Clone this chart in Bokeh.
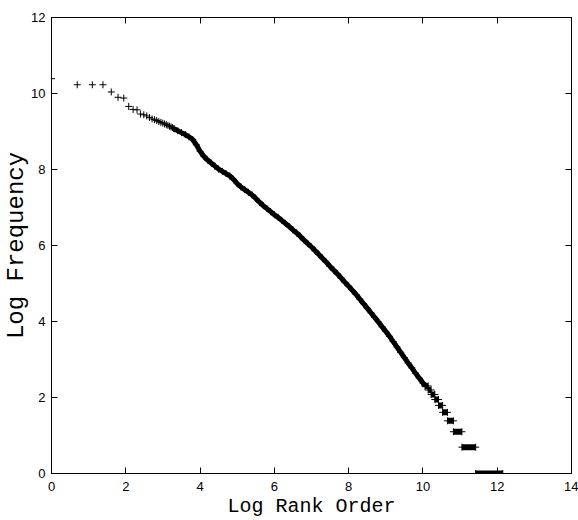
from bokeh.plotting import figure
from bokeh.models import LinearAxis, Range1d, FixedTicker, CustomJSTickFormatter
from bokeh.embed import file_html
from bokeh.resources import INLINE

# ---- data (natural log of rank, natural log of frequency) ----
# top-ranked words, drawn as individual points
x_top = [0.0, 0.693, 1.099, 1.386, 1.609, 1.792, 1.946, 2.079, 2.197, 2.303, 2.398,
         2.485, 2.565, 2.639, 2.708, 2.773, 2.833, 2.890, 2.944, 2.996, 3.045, 3.091,
         3.135, 3.178, 3.219, 3.258, 3.296]
y_top = [10.39, 10.23, 10.23, 10.23, 10.04, 9.90, 9.88, 9.66, 9.58, 9.57, 9.46,
         9.44, 9.41, 9.37, 9.33, 9.31, 9.29, 9.26, 9.24, 9.22, 9.20, 9.18,
         9.16, 9.14, 9.12, 9.10, 9.08]

# dense middle part of the curve
x_band = [3.30, 3.40, 3.50, 3.60, 3.70, 3.80, 3.90, 4.00, 4.10, 4.20, 4.30, 4.40,
          4.50, 4.60, 4.70, 4.80, 4.90, 5.00, 5.10, 5.20, 5.30, 5.40, 5.50, 5.60,
          5.70, 5.80, 5.90, 6.00, 6.10, 6.20, 6.30, 6.40, 6.50, 6.60, 6.70, 6.80,
          6.90, 7.00, 7.10, 7.20, 7.30, 7.40, 7.50, 7.60, 7.70, 7.80, 7.90, 8.00,
          8.10, 8.20, 8.30, 8.40, 8.50, 8.60, 8.70, 8.80, 8.90, 9.00, 9.10, 9.20,
          9.30, 9.40, 9.50, 9.60, 9.70, 9.80, 9.90, 10.00, 10.06]
y_band = [9.07, 9.02, 8.97, 8.92, 8.86, 8.79, 8.65, 8.48, 8.35, 8.25, 8.17, 8.09,
          8.01, 7.95, 7.89, 7.83, 7.74, 7.63, 7.54, 7.47, 7.40, 7.33, 7.24, 7.14,
          7.05, 6.97, 6.89, 6.81, 6.74, 6.66, 6.58, 6.50, 6.41, 6.33, 6.24, 6.14,
          6.05, 5.96, 5.86, 5.76, 5.66, 5.56, 5.45, 5.35, 5.25, 5.14, 5.03, 4.93,
          4.82, 4.71, 4.59, 4.47, 4.35, 4.23, 4.11, 3.99, 3.86, 3.74, 3.61, 3.47,
          3.33, 3.19, 3.05, 2.91, 2.78, 2.64, 2.51, 2.38, 2.30]

# low-frequency tail: runs of ranks sharing the same frequency (f = 10 .. 1)
step_y = [2.303, 2.197, 2.079, 1.946, 1.792, 1.609, 1.386, 1.099, 0.693, 0.0]
step_x0 = [10.06, 10.14, 10.22, 10.32, 10.42, 10.53, 10.66, 10.82, 11.05, 11.42]
step_x1 = [10.14, 10.22, 10.32, 10.42, 10.53, 10.66, 10.82, 11.05, 11.42, 12.15]

x_ticks = [0, 2, 4, 6, 8, 10, 12, 14]
y_ticks = [0, 2, 4, 6, 8, 10, 12]

p = figure(width=578, height=520, output_backend="svg", toolbar_location=None,
           x_range=Range1d(0, 14), y_range=Range1d(0, 12),
           min_border_left=49, min_border_right=7, min_border_top=17, min_border_bottom=47)
p.xgrid.visible = False
p.ygrid.visible = False
p.outline_line_color = "black"
p.background_fill_color = "white"
p.border_fill_color = "white"

def style_axis(ax, ticks, show_labels):
    ax.ticker = FixedTicker(ticks=ticks)
    ax.major_tick_in = 6
    ax.major_tick_out = 0
    ax.minor_tick_in = 0
    ax.minor_tick_out = 0
    ax.axis_line_color = "black"
    ax.axis_line_width = 1
    ax.major_tick_line_color = "black"
    ax.major_tick_line_width = 1
    if show_labels:
        ax.major_label_text_font = "Liberation Sans"
        ax.major_label_text_font_size = "13px"
        ax.major_label_text_color = "black"
        ax.axis_label_text_font = "Liberation Mono"
        ax.axis_label_text_font_style = "normal"
        ax.axis_label_text_color = "black"
    else:
        ax.formatter = CustomJSTickFormatter(code="return ''")
        ax.major_label_standoff = 0
        ax.major_label_text_font_size = "1px"

xa = p.xaxis[0]
style_axis(xa, x_ticks, True)
xa.major_label_standoff = 8
xa.axis_label = "Log Rank Order"
xa.axis_label_text_font_size = "20px"
xa.axis_label_standoff = 1

ya = p.yaxis[0]
style_axis(ya, y_ticks, True)
ya.major_label_standoff = 6
ya.axis_label = "Log Frequency"
ya.axis_label_text_font_size = "24px"
ya.axis_label_standoff = -2

top_ax = LinearAxis()
style_axis(top_ax, x_ticks, False)
p.add_layout(top_ax, "above")
right_ax = LinearAxis()
style_axis(right_ax, y_ticks, False)
p.add_layout(right_ax, "right")

# data
p.line(x_band, y_band, line_width=5, line_color="black")
p.scatter(x_band, y_band, marker="cross", size=7, line_color="black", line_width=1)
p.scatter(x_top, y_top, marker="cross", size=7, line_color="black", line_width=1)
p.segment(x0=step_x0, y0=step_y, x1=step_x1, y1=step_y, line_width=6,
          line_color="black", line_cap="butt")
p.scatter(step_x0, step_y, marker="cross", size=7, line_color="black", line_width=1)
p.scatter(step_x1, step_y, marker="cross", size=7, line_color="black", line_width=1)

open("out.html", "w").write(file_html(p, INLINE))
